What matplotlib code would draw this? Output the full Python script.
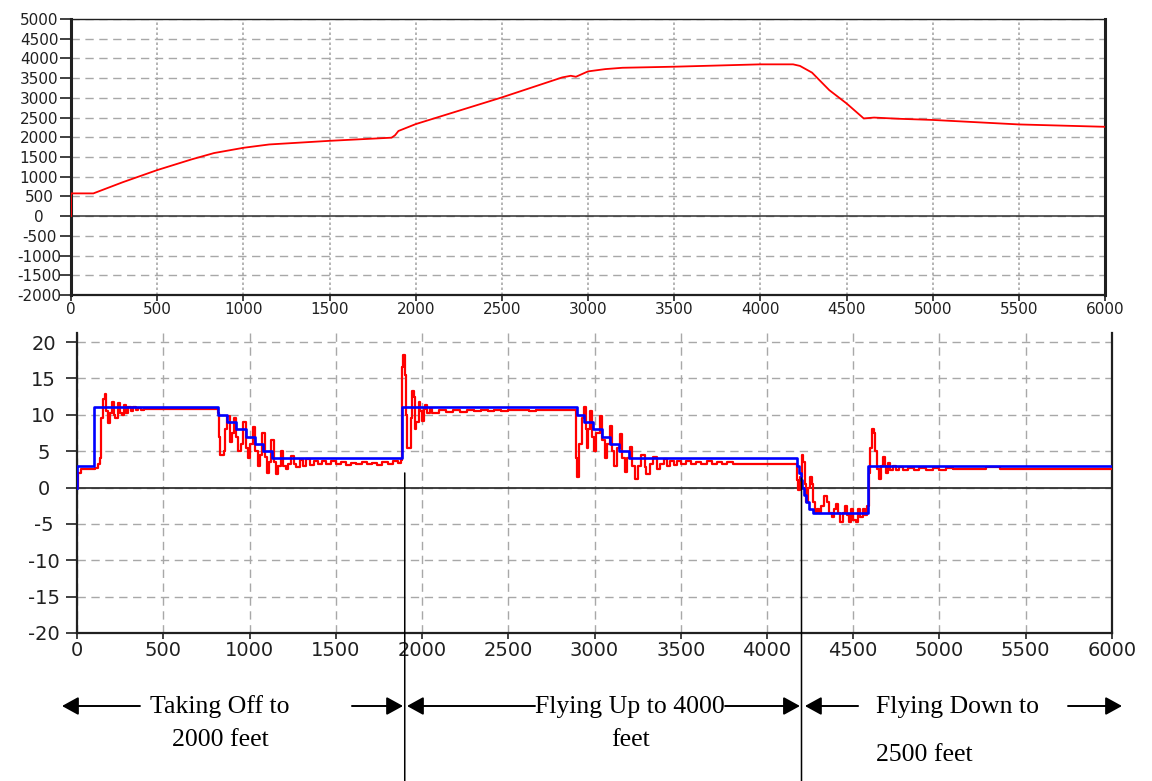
import matplotlib.pyplot as plt
from matplotlib.patches import ConnectionPatch
from matplotlib.transforms import blended_transform_factory

plt.rcParams['axes.unicode_minus'] = False

# altitude (feet) vs time step
alt_x = [0, 0, 130, 300, 500, 700, 830, 1000, 1150, 1500, 1860, 1880, 1900, 2000,
         2500, 2850, 2900, 2930, 3000, 3100, 3200, 3500, 4000, 4190, 4230, 4300,
         4400, 4500, 4600, 4660, 4800, 5000, 5500, 6000]
alt_y = [0, 577, 577, 860, 1168, 1440, 1600, 1733, 1818, 1910, 1990, 2050, 2160, 2334,
         3011, 3518, 3560, 3535, 3671, 3729, 3763, 3790, 3850, 3850, 3810, 3640,
         3196, 2860, 2478, 2500, 2470, 2440, 2326, 2266]

# commanded pitch angle (deg), held between breakpoints
cmd_x = [0, 1, 100, 819, 868, 920, 982, 1032, 1080, 1129, 1882, 2897, 2940, 2993,
         3041, 3090, 3144, 3202, 4172, 4185, 4195, 4205, 4215, 4228, 4245, 4265,
         4584, 6000]
cmd_y = [0, 3, 11, 10, 9, 8, 7, 6, 5, 4, 11, 10, 9, 8,
         7, 6, 5, 4, 3, 2, 1, 0, -1, -2, -3, -3.5,
         3, 3]

# measured pitch angle (deg)
pitch_x = [0, 5, 25, 105, 120, 132, 140, 150, 160, 170, 178, 190, 200, 212, 222, 235,
           248, 260, 272, 285, 298, 312, 326, 340, 356, 372, 390, 815, 822, 828, 850,
           860, 872, 885, 898, 908, 922, 935, 950, 962, 978, 992, 1005, 1018, 1034,
           1048, 1060, 1070, 1088, 1100, 1112, 1124, 1140, 1152, 1165, 1180, 1196,
           1210, 1225, 1240, 1258, 1272, 1290, 1310, 1330, 1350, 1372, 1395, 1420,
           1445, 1470, 1500, 1530, 1560, 1590, 1620, 1650, 1680, 1710, 1740, 1770,
           1800, 1830, 1860, 1878,
           1882, 1892, 1900, 1908, 1915, 1935, 1943, 1952, 1960, 1968, 1980, 1990,
           1998, 2010, 2020, 2030, 2045, 2060, 2100, 2140, 2180, 2220, 2260, 2300,
           2340, 2380, 2420, 2460, 2500, 2540, 2580, 2620, 2660, 2890,
           2897, 2910, 2925, 2938, 2948, 2955, 2965, 2974, 2985, 2995, 3010, 3030,
           3045, 3060, 3075, 3088, 3100, 3115, 3130, 3145, 3160, 3175, 3190, 3205,
           3220, 3232, 3250, 3270, 3290, 3300, 3320, 3340, 3360, 3380, 3400, 3420,
           3440, 3460, 3480, 3500, 3530, 3560, 3590, 3620, 3650, 3680, 3710, 3740,
           3770, 3800,
           4172, 4178, 4192, 4200, 4210, 4218, 4228, 4240, 4248, 4258, 4268, 4280,
           4290, 4300, 4315, 4330, 4345, 4360, 4375, 4390, 4400, 4412, 4425, 4440,
           4452, 4462, 4475, 4488, 4500, 4515, 4528, 4540, 4555, 4570, 4582,
           4590, 4598, 4606, 4618, 4628, 4638, 4648, 4660, 4670, 4682, 4692, 4702,
           4715, 4730, 4745, 4765, 4790, 4820, 4850, 4880, 4920, 4960, 5000, 5040,
           5080, 5270, 5350, 6000]
pitch_y = [0, 2.0, 2.5, 2.7, 3.2, 4.0, 9.6, 12.2, 12.8, 10.5, 8.8, 10.2, 11.8, 10.0, 9.6, 11.6,
           10.2, 10.0, 11.3, 10.3, 11.1, 10.5, 11.0, 10.6, 10.9, 10.7, 10.8, 10.2, 7.0, 4.5, 5.0,
           8.0, 9.8, 6.3, 7.5, 9.6, 7.0, 5.0, 6.0, 9.0, 5.5, 4.0, 6.0, 8.3, 5.0,
           3.0, 4.5, 7.5, 4.2, 2.0, 3.5, 6.5, 3.5, 1.8, 3.0, 5.0, 3.0,
           2.5, 3.2, 4.4, 3.2, 2.8, 3.8, 3.0, 3.9, 3.1, 3.7, 3.2, 3.6,
           3.3, 3.6, 3.2, 3.5, 3.1, 3.4, 3.2, 3.5, 3.2, 3.4, 3.1, 3.5,
           3.3, 3.6, 3.4, 3.8,
           16.5, 18.2, 15.5, 10.0, 5.5, 9.5, 13.3, 12.5, 8.0, 9.0, 11.8, 10.5,
           9.2, 10.8, 11.4, 10.2, 10.8, 10.3, 10.6, 10.4, 10.7, 10.4, 10.6, 10.5,
           10.7, 10.5, 10.7, 10.5, 10.7, 10.6, 10.7, 10.5, 10.6, 4.0,
           1.5, 6.0, 9.5, 11.0, 8.0, 5.5, 8.0, 10.5, 7.0, 5.0, 7.5, 9.8,
           6.5, 4.0, 6.0, 8.4, 5.0, 3.0, 5.5, 7.3, 4.0, 2.2, 4.0, 5.6,
           3.0, 1.2, 3.0, 4.5, 2.8, 1.8, 3.2, 4.2, 2.5, 3.3, 3.9, 3.0,
           3.7, 3.1, 3.6, 3.3, 3.6, 3.2, 3.5, 3.3, 3.6, 3.2, 3.5, 3.3,
           3.5, 3.3,
           1.0, -0.3, 1.5, 4.5, 3.5, 0.5, -2.0, 0.0, 1.5, 0.5, -2.0, -3.5,
           -3.0, -3.5, -2.5, -1.2, -2.0, -3.5, -4.0, -3.0, -2.2, -3.5, -4.8, -3.5,
           -2.5, -3.8, -4.8, -3.0, -4.5, -4.8, -3.0, -4.0, -3.0, -3.8, -2.5,
           2.0, 5.5, 8.0, 7.5, 5.0, 2.5, 1.2, 3.0, 4.2, 3.0, 2.0, 3.4,
           2.4, 3.0, 2.4, 2.8, 2.4, 2.7, 2.4, 2.7, 2.4, 2.7, 2.4, 2.7,
           2.5, 2.8, 2.5, 2.5]

phase_bounds = [1900, 4200]
phase_line_top = [2.0, 1.3]

grid_col = '#a8a8a8'
W, H = 1152, 781
fig = plt.figure(figsize=(W / 100, H / 100), dpi=100)

# ---- altitude panel ----
ax1 = fig.add_axes([71 / W, 1 - 295 / H, (1105 - 71) / W, (295 - 19) / H])
ax1.plot(alt_x, alt_y, color='#ff0000', lw=1.3, zorder=3)
ax1.axhline(0, color='#303030', lw=1.1, zorder=2)
ax1.set_xlim(0, 6000)
ax1.set_ylim(-2000, 5000)
ax1.set_xticks(range(0, 6001, 500))
ax1.set_yticks(range(-2000, 5001, 500))
ax1.yaxis.grid(True, color=grid_col, ls=(0, (6, 4)), lw=1.0)
ax1.xaxis.grid(True, color=grid_col, ls=(0, (1.5, 1.5)), lw=1.2)
ax1.set_axisbelow(True)
for side, w in [('left', 2.2), ('bottom', 1.6), ('right', 2.2), ('top', 1.0)]:
    ax1.spines[side].set_linewidth(w)
    ax1.spines[side].set_color('#202020')
ax1.tick_params(axis='y', direction='out', length=8, width=1.2, pad=15,
                labelsize=11, colors='#202020')
ax1.tick_params(axis='x', direction='out', length=4, width=1.2, pad=1,
                labelsize=11, colors='#202020')
for lab in ax1.get_yticklabels():
    lab.set_horizontalalignment('center')

# ---- pitch panel ----
ax2 = fig.add_axes([77 / W, 1 - 633 / H, (1112 - 77) / W, (633 - 333) / H])
ax2.plot(pitch_x, pitch_y, color='#ff0000', lw=1.6, drawstyle='steps-post', zorder=3)
ax2.plot(cmd_x, cmd_y, color='#0000ff', lw=1.9, drawstyle='steps-post', zorder=4)
ax2.axhline(0, color='#303030', lw=1.3, zorder=2)
ax2.set_xlim(0, 6000)
ax2.set_ylim(-20, 21.24)
ax2.set_xticks(range(0, 6001, 500))
ax2.set_yticks(range(-20, 21, 5))
ax2.grid(True, color=grid_col, ls=(0, (6, 4)), lw=1.0)
ax2.set_axisbelow(True)
ax2.spines['top'].set_visible(False)
for side in ['left', 'right', 'bottom']:
    ax2.spines[side].set_linewidth(1.6)
    ax2.spines[side].set_color('#202020')
ax2.tick_params(axis='y', direction='out', length=8, width=1.2, pad=16,
                labelsize=14, colors='#202020')
ax2.tick_params(axis='x', direction='out', length=4, width=1.2, pad=2,
                labelsize=14, colors='#202020')
for lab in ax2.get_yticklabels():
    lab.set_horizontalalignment('center')

# ---- flight phase markers below the pitch panel ----
trans = blended_transform_factory(ax2.transData, fig.transFigure)
for bx, top in zip(phase_bounds, phase_line_top):
    con = ConnectionPatch(xyA=(bx, top), coordsA=ax2.transData,
                          xyB=(bx, 0), coordsB=trans, color='black', lw=1.1)
    fig.add_artist(con)

arrow_y = 1 - 706 / H
arrow_kw = dict(arrowstyle='-|>,head_length=1.0,head_width=0.55', color='black',
                lw=1.4, shrinkA=0, shrinkB=0, mutation_scale=10)
arrows = [(365, -87), (1594, 1890), (2655, 1913), (3757, 4191), (4528, 4220), (5745, 6058)]
for tail, tip in arrows:
    ax2.annotate('', xy=(tip, arrow_y), xytext=(tail, arrow_y),
                 xycoords=trans, textcoords=trans, arrowprops=arrow_kw,
                 annotation_clip=False)

txt_kw = dict(transform=trans, fontsize=18.5, family='Liberation Serif',
              va='center', color='black')
ax2.text(829, 1 - 707 / H, 'Taking Off to', ha='center',
         bbox=dict(fc='white', ec='none', pad=1), **txt_kw)
ax2.text(829, 1 - 740 / H, '2000 feet', ha='center', **txt_kw)
ax2.text(3206, 1 - 707 / H, 'Flying Up to 4000', ha='center', **txt_kw)
ax2.text(3206, 1 - 740 / H, 'feet', ha='center', **txt_kw)
ax2.text(4632, 1 - 707 / H, 'Flying Down to', ha='left', **txt_kw)
ax2.text(4632, 1 - 755 / H, '2500 feet', ha='left', **txt_kw)

fig.savefig('out.png', dpi=100)
